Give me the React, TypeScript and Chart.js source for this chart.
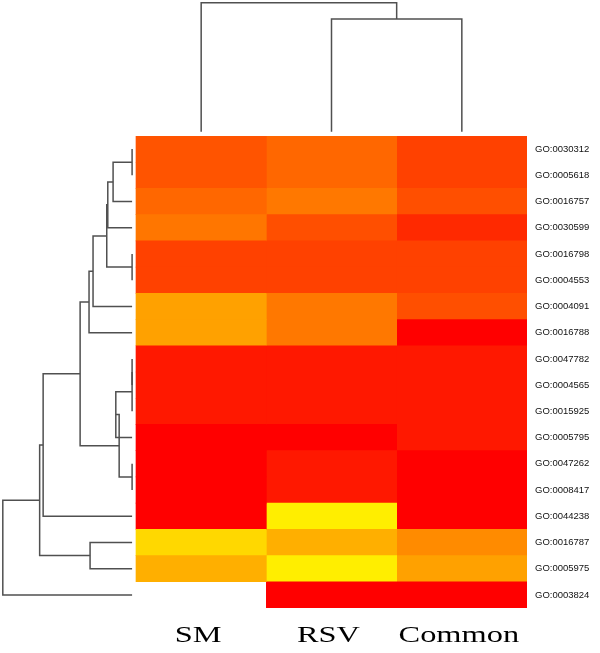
import React, { useEffect, useRef } from "react";
import { Chart, registerables } from "chart.js";

Chart.register(...registerables);

// ---------- data ----------
const columns = ["SM", "RSV", "Common"];

const goTerms = [
  "GO:0030312", "GO:0005618", "GO:0016757", "GO:0030599", "GO:0016798",
  "GO:0004553", "GO:0004091", "GO:0016788", "GO:0047782", "GO:0004565",
  "GO:0015925", "GO:0005795", "GO:0047262", "GO:0008417", "GO:0044238",
  "GO:0016787", "GO:0005975", "GO:0003824",
];

// heat score: 0 = red, 1 = yellow; null = missing cell
const smValues = [0.35, 0.35, 0.43, 0.49, 0.27, 0.27, 0.67, 0.67, 0.1, 0.1, 0.1, 0, 0, 0, 0, 0.9, 0.73, null];
const rsvValues = [0.43, 0.43, 0.5, 0.33, 0.27, 0.27, 0.5, 0.5, 0.1, 0.1, 0.1, 0, 0.1, 0.1, 0.99, 0.73, 0.99, 0];
const commonValues = [0.27, 0.27, 0.33, 0.17, 0.27, 0.27, 0.33, 0, 0.1, 0.1, 0.1, 0.1, 0, 0, 0, 0.58, 0.67, 0];

// row dendrogram (hclust-like merge list: negative = leaf position, positive = earlier merge; height)
const rowMerges: [number, number, number][] = [
  [-1, -2, 0],
  [1, -3, 0.147],
  [2, -4, 0.188],
  [-5, -6, 0],
  [3, 4, 0.196],
  [5, -7, 0.302],
  [6, -8, 0.333],
  [-9, -10, 0],
  [8, -11, 0],
  [9, -12, 0.126],
  [-13, -14, 0],
  [10, 11, 0.1],
  [7, 12, 0.402],
  [13, -15, 0.688],
  [-16, -17, 0.325],
  [14, 15, 0.715],
  [16, -18, 1.0],
];

// column dendrogram
const colMerges: [number, number, number][] = [
  [-2, -3, 0.874],
  [-1, 1, 1.0],
];

const valuesByColumn = [smValues, rsvValues, commonValues];

function heatColor(v: number) {
  return `rgb(255, ${Math.round(v * 240)}, 0)`;
}

type Seg = [number, number][];
function dendroSegments(merges: [number, number, number][]): Seg[] {
  const nodes: { pos: number; h: number }[] = [];
  const get = (id: number) => (id < 0 ? { pos: -id, h: 0 } : nodes[id - 1]);
  const segs: Seg[] = [];
  merges.forEach(([a, b, h]) => {
    const A = get(a);
    const B = get(b);
    segs.push([
      [A.h, A.pos],
      [h, A.pos],
      [h, B.pos],
      [B.h, B.pos],
    ]);
    nodes.push({ pos: (A.pos + B.pos) / 2, h });
  });
  return segs;
}

const X_MIN = -1.0435;
const LEFT_TIP = -0.03;
const LEFT_SPAN = 0.992;
const TOP_GAP = 4.3;
const TOP_SPAN = 129;

const dendroPlugin = {
  id: "dendro",
  afterDraw(chart: any) {
    const { ctx, chartArea, scales } = chart;
    const xs = scales.x;
    const ys = scales.y;
    ctx.save();
    ctx.strokeStyle = "#505050";
    ctx.lineWidth = 1.5;
    ctx.lineJoin = "miter";
    ctx.lineCap = "butt";
    // left (rows)
    dendroSegments(rowMerges).forEach((seg) => {
      ctx.beginPath();
      seg.forEach(([h, pos], i) => {
        const px = xs.getPixelForValue(LEFT_TIP - h * LEFT_SPAN);
        const py = ys.getPixelForValue(pos - 1);
        if (i === 0) ctx.moveTo(px, py);
        else ctx.lineTo(px, py);
      });
      ctx.stroke();
    });
    // top (columns)
    dendroSegments(colMerges).forEach((seg) => {
      ctx.beginPath();
      seg.forEach(([h, pos], i) => {
        const px = xs.getPixelForValue(pos - 0.5);
        const py = chartArea.top - TOP_GAP - h * TOP_SPAN;
        if (i === 0) ctx.moveTo(px, py);
        else ctx.lineTo(px, py);
      });
      ctx.stroke();
    });
    // column labels
    ctx.fillStyle = "#000";
    ctx.font = '24px "Liberation Serif", "Times New Roman", serif';
    ctx.textAlign = "center";
    ctx.textBaseline = "alphabetic";
    columns.forEach((name, c) => {
      const cx = xs.getPixelForValue(c + 0.5) - 3;
      ctx.save();
      ctx.translate(cx, chartArea.bottom + 33.5);
      ctx.scale(1.35, 1);
      ctx.fillText(name, 0, 0);
      ctx.restore();
    });
    ctx.restore();
  },
};

export default function App() {
  const canvasRef = useRef<HTMLCanvasElement | null>(null);

  useEffect(() => {
    if (!canvasRef.current) return;
    const chart = new Chart(canvasRef.current, {
      type: "bar",
      data: {
        labels: goTerms,
        datasets: columns.map((name, c) => ({
          label: name,
          data: valuesByColumn[c].map((v) => (v === null ? null : [c, c + 1])) as any,
          backgroundColor: valuesByColumn[c].map((v) => (v === null ? "rgba(0,0,0,0)" : heatColor(v))),
          borderWidth: 0,
          barPercentage: 1,
          categoryPercentage: 1,
          grouped: false,
        })),
      },
      options: {
        animation: false,
        responsive: true,
        maintainAspectRatio: false,
        indexAxis: "y",
        layout: { padding: { top: 136, bottom: 45, left: 0, right: 0 } },
        plugins: {
          legend: { display: false },
          tooltip: { enabled: false },
        },
        scales: {
          x: { type: "linear", min: X_MIN, max: 3, display: false },
          y: {
            type: "category",
            position: "right",
            grid: { display: false, drawTicks: false },
            border: { display: false },
            ticks: {
              autoSkip: false,
              padding: 8,
              color: "#111",
              font: { family: '"Liberation Sans", Arial, sans-serif', size: 9.5 },
            },
            afterFit: (scale: any) => {
              scale.width = 73;
            },
          },
        },
      } as any,
      plugins: [dendroPlugin],
    });
    return () => chart.destroy();
  }, []);

  return (
    <div style={{ position: "fixed", left: 0, top: 0, width: 600, height: 653, background: "#fff" }}>
      <canvas ref={canvasRef} />
    </div>
  );
}
